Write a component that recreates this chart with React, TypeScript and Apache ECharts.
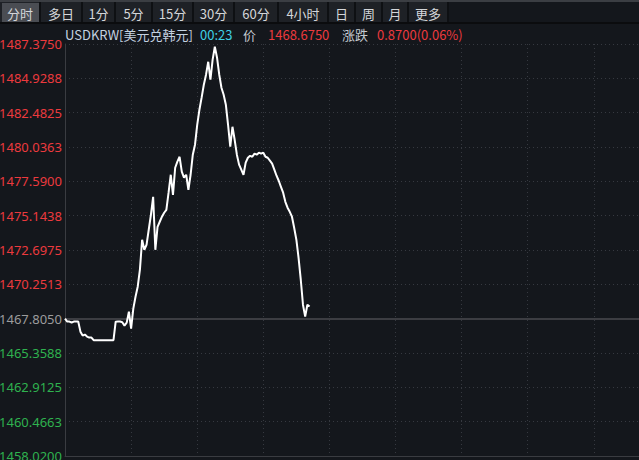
import React, { useEffect, useRef } from "react";
import * as echarts from "echarts";

// ---- data ----
const toolbarLabels = ["分时", "多日", "1分", "5分", "15分", "30分", "60分", "4小时", "日", "周", "月", "更多"];
const yTickLabels = [
  "1458.0200", "1460.4663", "1462.9125", "1465.3588", "1467.8050", "1470.2513", "1472.6975",
  "1475.1438", "1477.5900", "1480.0363", "1482.4825", "1484.9288", "1487.3750",
];
const axisMin = 1458.02;
const axisStep = 2.44625;
const prevClose = 1467.805;
const minuteStep = 2;
const prices = [
  1467.80, 1467.60, 1467.60, 1467.53, 1467.60, 1467.60, 1467.60, 1466.88, 1466.60, 1466.67,
  1466.53, 1466.46, 1466.46, 1466.27, 1466.27, 1466.27, 1466.27, 1466.27, 1466.27, 1466.27,
  1466.27, 1466.27, 1466.27, 1467.59, 1467.60, 1467.60, 1467.55, 1467.31, 1467.52, 1468.30,
  1467.10, 1468.52, 1469.37, 1470.08, 1471.30, 1473.43, 1472.71, 1473.07, 1474.14, 1475.21,
  1476.49, 1472.71, 1474.35, 1474.71, 1475.07, 1475.35, 1475.56, 1476.78, 1478.06, 1476.63,
  1478.56, 1478.99, 1479.34, 1478.28, 1477.85, 1478.06, 1476.99, 1478.06, 1479.49, 1480.20,
  1481.62, 1482.69, 1483.55, 1484.47, 1485.19, 1486.11, 1484.83, 1486.26, 1487.18, 1486.40,
  1485.19, 1484.26, 1483.76, 1483.05, 1481.62, 1480.06, 1481.48, 1480.55, 1479.49, 1478.78,
  1478.42, 1478.06, 1478.92, 1479.27, 1479.41, 1479.34, 1479.56, 1479.49, 1479.63, 1479.56,
  1479.63, 1479.34, 1479.27, 1479.06, 1478.85, 1478.42, 1477.99, 1477.63, 1477.20, 1476.78,
  1476.13, 1475.71, 1475.42, 1475.07, 1474.28, 1473.43, 1472.14, 1470.58, 1468.80, 1467.95,
  1468.80, 1468.675,
];
const headerSymbol = "USDKRW[美元兑韩元]";
const headerTime = "00:23";
const headerPriceLabel = "价";
const headerPrice = "1468.6750";
const headerChangeLabel = "涨跌";
const headerChange = "0.8700(0.06%)";

// ---- layout / style ----
const W = 639;
const H = 460;
const BG = "#14171c";
const RED = "#ec3a3e";
const GREEN = "#2fb24f";
const GREY = "#9c9c9c";
const FONT = '"Noto Sans", "Noto Sans CJK SC", sans-serif';
const CJK = '"Noto Sans CJK SC", "Noto Sans", sans-serif';
const btnEdges = [0, 40, 82, 115, 152, 193, 234, 278, 328, 355, 382, 408, 448];

function buildGraphics() {
  const els: any[] = [];
  els.push({ type: "rect", shape: { x: 0, y: 0, width: W, height: 2 }, style: { fill: "#3b3e43" }, silent: true });
  els.push({ type: "rect", shape: { x: 0, y: 2, width: btnEdges[btnEdges.length - 1], height: 20 }, style: { fill: "#1e2126" }, silent: true });
  els.push({ type: "rect", shape: { x: 2, y: 3, width: 38, height: 19 }, style: { fill: "#4a4d53" }, silent: true });
  btnEdges.slice(1).forEach((e) => {
    els.push({ type: "line", shape: { x1: e, y1: 2, x2: e, y2: 22 }, style: { stroke: "#0e1013", lineWidth: 2 }, silent: true });
  });
  els.push({ type: "rect", shape: { x: 0, y: 22, width: W, height: 2 }, style: { fill: "#0b0c0e" }, silent: true });
  toolbarLabels.forEach((t, i) => {
    const cx = (btnEdges[i] + btnEdges[i + 1]) / 2;
    els.push({
      type: "text", x: cx, y: 13, silent: true,
      style: { text: t, fill: "#d4d6d9", font: `13px ${CJK}`, textAlign: "center", textVerticalAlign: "middle", align: "center", verticalAlign: "middle" },
    });
  });
  const hdr: [string, number, string][] = [
    [headerSymbol, 65, "#c4d2e0"],
    [headerTime, 200, "#3fd0e6"],
    [headerPriceLabel, 243, "#c4cad0"],
    [headerPrice, 268, RED],
    [headerChangeLabel, 342, "#c4cad0"],
    [headerChange, 377, RED],
  ];
  hdr.forEach(([t, x, c]) => {
    els.push({
      type: "text", x, y: 34, silent: true,
      style: { text: t, fill: c, font: `13px ${CJK}`, textAlign: "left", textVerticalAlign: "middle", align: "left", verticalAlign: "middle" },
    });
  });
  return els;
}

export default function App() {
  const ref = useRef<HTMLDivElement>(null);
  useEffect(() => {
    document.body.style.margin = "0";
    document.body.style.background = BG;
    const chart = echarts.init(ref.current!, undefined, { renderer: "svg" });
    const toY = (v: number) => (v - axisMin) / axisStep;
    const prevIdx = Math.round(toY(prevClose));
    chart.setOption({
      animation: false,
      backgroundColor: BG,
      grid: { left: 65, right: 0, top: 44, bottom: 4, containLabel: false, outerBoundsMode: "none" },
      xAxis: {
        type: "value",
        min: 0,
        max: 521,
        interval: 60,
        position: "top",
        axisLine: { show: true, lineStyle: { color: "#3a3c41", width: 1 } },
        axisTick: { show: false },
        axisLabel: { show: false },
        splitLine: { show: true, lineStyle: { color: "#363940", type: [1, 3], width: 1 } },
      },
      yAxis: {
        type: "value",
        min: 0,
        max: 12,
        interval: 1,
        axisLine: { show: true, lineStyle: { color: "#3a3c41", width: 1 } },
        axisTick: { show: false },
        axisLabel: {
          margin: 3,
          fontSize: 13,
          fontFamily: FONT,
          formatter: (v: number) => yTickLabels[Math.round(v)],
          color: (v: number) => {
            const k = Math.round(v);
            return k > prevIdx ? RED : k < prevIdx ? GREEN : GREY;
          },
        },
        splitLine: { show: true, lineStyle: { color: "#363940", type: [1, 3], width: 1 } },
      },
      graphic: buildGraphics(),
      series: [
        {
          type: "line",
          data: prices.map((p, i) => [i * minuteStep, toY(p)]),
          symbol: "none",
          lineStyle: { color: "#ffffff", width: 2 },
          z: 5,
          markLine: {
            silent: true,
            symbol: "none",
            label: { show: false },
            lineStyle: { color: "#3c3d42", width: 2, type: "solid" },
            data: [{ yAxis: toY(prevClose) }],
            z: 1,
          },
        },
      ],
    });
    return () => chart.dispose();
  }, []);
  return <div ref={ref} style={{ position: "fixed", left: 0, top: 0, width: W, height: H }} />;
}
